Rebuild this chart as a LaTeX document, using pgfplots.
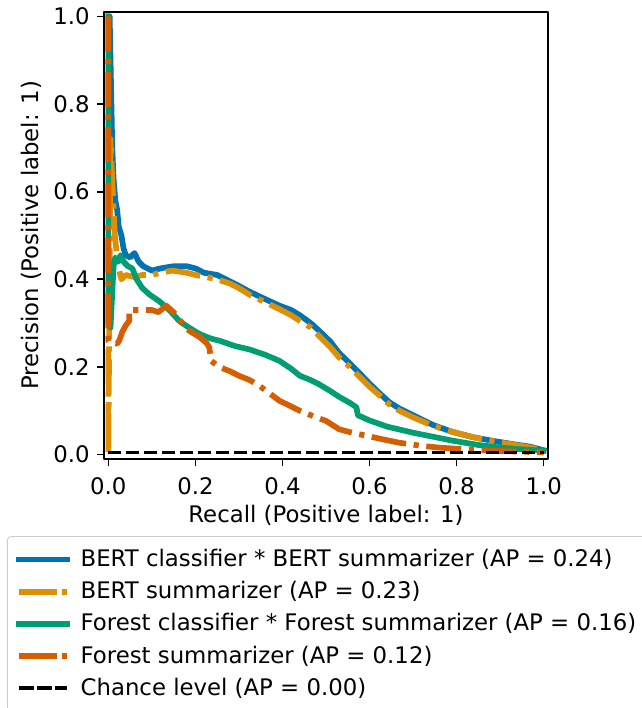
\documentclass[border=0pt]{standalone}
\usepackage{fontspec}
\setmainfont{DejaVu Sans}
\usepackage{pgfplots}
\pgfplotsset{compat=1.18}
\definecolor{cbblue}{HTML}{0173B2}
\definecolor{cborange}{HTML}{DE8F05}
\definecolor{cbgreen}{HTML}{029E73}
\definecolor{cbred}{HTML}{D55E00}
\begin{document}
\begin{tikzpicture}
\begin{axis}[
  scale only axis, width=222pt, height=223.5pt,
  xmin=-0.01, xmax=1.01, ymin=-0.01, ymax=1.01,
  xtick={0,0.2,0.4,0.6,0.8,1}, ytick={0,0.2,0.4,0.6,0.8,1},
  xticklabels={0.0,0.2,0.4,0.6,0.8,1.0}, yticklabels={0.0,0.2,0.4,0.6,0.8,1.0},
  tick align=outside, tick pos=left, major tick length=3.7pt,
  axis line style={line width=0.85pt},
  every tick/.style={black, line width=0.85pt},
  tick label style={font=\fontsize{11.4}{13.7}\selectfont},
  xticklabel style={yshift=-2pt},
  label style={font=\fontsize{11.4}{13.7}\selectfont},
  xlabel={Recall (Positive label: 1)}, ylabel={Precision (Positive label: 1)},
  xlabel style={at={(axis description cs:0.5,-0.125)}, anchor=center},
  ylabel style={at={(axis description cs:-0.164,0.5)}, anchor=center},
  /pgf/number format/assume math mode=true,
  legend style={at={(-0.2185,-0.1723)}, anchor=north west, font=\fontsize{11.4}{13.7}\selectfont,
    draw=black!20, rounded corners=2pt, cells={anchor=west}, row sep=1.9pt, inner sep=4.5pt,
    column sep=3.3pt},
  legend image code/.code={\path (0pt,0pt) -- (24pt,0pt); \draw[#1] (1.2pt,0pt) -- (24pt,0pt);},
  line join=round,
]
\addplot[cbblue, line width=2.85pt, line cap=rect] coordinates {(0,1) (0.003,1.0) (0.005,0.9) (0.007,0.8) (0.009,0.7) (0.012,0.63) (0.016,0.58) (0.02,0.56) (0.024,0.52) (0.03,0.50) (0.035,0.47) (0.04,0.455) (0.05,0.45) (0.06,0.46) (0.07,0.44) (0.08,0.43) (0.1,0.42) (0.12,0.425) (0.15,0.43) (0.18,0.43) (0.2,0.425) (0.22,0.415) (0.25,0.41) (0.28,0.395) (0.3,0.385) (0.324,0.372) (0.36,0.355) (0.393,0.34) (0.42,0.33) (0.44,0.318) (0.465,0.3) (0.485,0.282) (0.51,0.258) (0.53,0.232) (0.555,0.208) (0.577,0.186) (0.6,0.162) (0.623,0.14) (0.645,0.12) (0.669,0.105) (0.7,0.09) (0.745,0.068) (0.79,0.052) (0.837,0.04) (0.88,0.032) (0.929,0.024) (0.97,0.018) (1.0,0.01)};
\addlegendentry{BERT classifier * BERT summarizer (AP = 0.24)}
\addplot[cborange, line width=2.85pt, dash pattern=on 17.5pt off 3.8pt on 2.6pt off 3.8pt] coordinates {(0,1) (0,0) (0.005,0.72) (0.008,0.65) (0.012,0.56) (0.015,0.5) (0.02,0.45) (0.025,0.42) (0.03,0.40) (0.04,0.41) (0.06,0.405) (0.078,0.41) (0.1,0.41) (0.12,0.415) (0.147,0.42) (0.18,0.415) (0.2,0.41) (0.225,0.405) (0.25,0.40) (0.28,0.39) (0.3,0.38) (0.324,0.365) (0.36,0.348) (0.393,0.332) (0.42,0.318) (0.44,0.305) (0.465,0.29) (0.485,0.27) (0.51,0.245) (0.53,0.222) (0.555,0.2) (0.577,0.178) (0.6,0.155) (0.623,0.135) (0.645,0.115) (0.669,0.1) (0.7,0.085) (0.745,0.066) (0.79,0.052) (0.837,0.04) (0.88,0.031) (0.929,0.023) (0.97,0.016) (1.0,0.01)};
\addlegendentry{BERT summarizer (AP = 0.23)}
\addplot[cbgreen, line width=2.85pt, line cap=rect] coordinates {(0,1) (0,0.3) (0.005,0.29) (0.008,0.35) (0.012,0.43) (0.016,0.45) (0.022,0.44) (0.028,0.455) (0.035,0.44) (0.045,0.43) (0.055,0.425) (0.065,0.4) (0.078,0.38) (0.095,0.365) (0.117,0.35) (0.14,0.33) (0.163,0.305) (0.185,0.29) (0.21,0.275) (0.235,0.265) (0.255,0.26) (0.29,0.248) (0.324,0.24) (0.36,0.228) (0.393,0.214) (0.42,0.196) (0.44,0.18) (0.465,0.17) (0.485,0.16) (0.51,0.145) (0.53,0.132) (0.555,0.118) (0.57,0.108) (0.573,0.09) (0.6,0.078) (0.64,0.064) (0.7,0.05) (0.75,0.04) (0.79,0.032) (0.85,0.022) (0.9,0.016) (0.95,0.012) (1.0,0.009)};
\addlegendentry{Forest classifier * Forest summarizer (AP = 0.16)}
\addplot[cbred, line width=2.85pt, dash pattern=on 17.5pt off 3.8pt on 2.6pt off 3.8pt] coordinates {(0,1) (0,0.26) (0.005,0.255) (0.012,0.255) (0.02,0.253) (0.025,0.26) (0.032,0.28) (0.04,0.295) (0.048,0.305) (0.048,0.33) (0.07,0.33) (0.1,0.33) (0.115,0.325) (0.133,0.34) (0.15,0.325) (0.163,0.31) (0.175,0.29) (0.19,0.28) (0.21,0.268) (0.225,0.255) (0.232,0.245) (0.236,0.214) (0.255,0.2) (0.28,0.19) (0.3,0.18) (0.325,0.17) (0.347,0.157) (0.37,0.14) (0.393,0.123) (0.42,0.11) (0.44,0.1) (0.47,0.088) (0.5,0.077) (0.53,0.058) (0.56,0.05) (0.593,0.043) (0.63,0.035) (0.669,0.027) (0.72,0.02) (0.76,0.016) (0.82,0.012) (0.88,0.009) (0.94,0.007) (1.0,0.005)};
\addlegendentry{Forest summarizer (AP = 0.12)}
\addplot[black, line width=1.7pt, dash pattern=on 6.3pt off 2.7pt] coordinates {(0,0.005) (1,0.005)};
\addlegendentry{Chance level (AP = 0.00)}
\end{axis}
\pgfresetboundingbox
\path (-52pt,-124.5pt) rectangle (269pt,229.5pt);
\end{tikzpicture}
\end{document}
